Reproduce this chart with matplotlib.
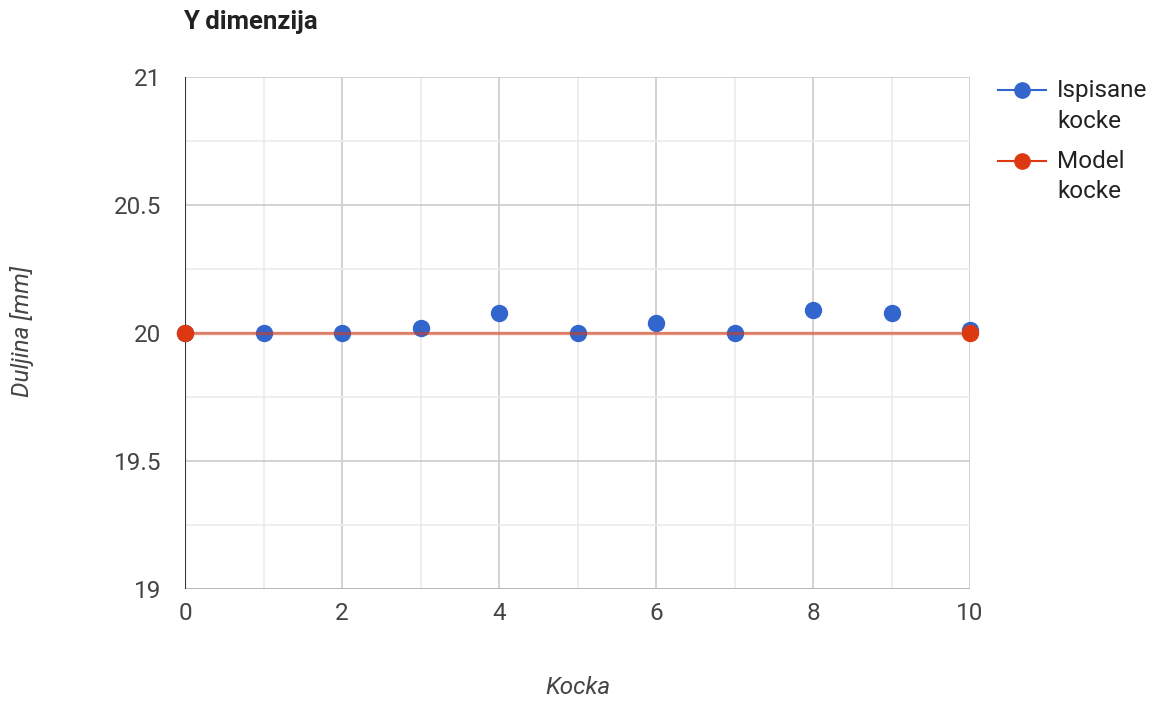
import matplotlib
matplotlib.use("Agg")
import matplotlib.pyplot as plt
from matplotlib.lines import Line2D

plt.rcParams['font.family'] = ['Roboto', 'DejaVu Sans']

kocke = [0, 1, 2, 3, 4, 5, 6, 7, 8, 9, 10]
ispisane = [20.00, 20.00, 20.00, 20.02, 20.08, 20.00, 20.04, 20.00, 20.09, 20.08, 20.01]
model_x = [0, 10]
model_y = [20, 20]
x_ticks = [0, 2, 4, 6, 8, 10]
y_ticks = [19, 19.5, 20, 20.5, 21]
y_labels = ['19', '19.5', '20', '20.5', '21']
legend_labels = [['Ispisane', 'kocke'], ['Model', 'kocke']]

blue = '#3366cc'
red = '#dc3912'
W, H = 1168, 706
FS = 17.5

fig = plt.figure(figsize=(W/100, H/100), dpi=100)
ax = fig.add_axes([185/W, 1-589/H, (970-185)/W, (589-77)/H])

ax.set_xlim(0, 10)
ax.set_ylim(19, 21)

# grid
for x in range(0, 11):
    ax.axvline(x, color='#cccccc' if x % 2 == 0 else '#ebebeb', lw=1.2, zorder=0)
for y in [19.25, 19.5, 19.75, 20, 20.25, 20.5, 20.75, 21]:
    ax.axhline(y, color='#cccccc' if (y * 2) % 1 == 0 else '#ebebeb', lw=1.2, zorder=0)
ax.axhline(19, color='#aaaaaa', lw=1.2, zorder=1)
ax.axvline(0, color='#333333', lw=1.5, zorder=1)

ax.plot(kocke, ispisane, 'o', color=blue, ms=11.5, mec=blue, zorder=3, clip_on=False)
ax.plot(model_x, model_y, '-', color=red, lw=2.4, alpha=0.55, zorder=4, clip_on=False)
ax.plot(model_x, model_y, 'o', color=red, ms=11.5, mec=red, zorder=5, clip_on=False)

for s in ax.spines.values():
    s.set_visible(False)
ax.set_xticks(x_ticks)
ax.set_xticklabels([str(v) for v in x_ticks])
ax.set_yticks(y_ticks)
ax.set_yticklabels(y_labels)
ax.tick_params(length=0, labelsize=FS, labelcolor='#444444')
ax.tick_params(axis='x', pad=9)
ax.tick_params(axis='y', pad=17)

fig.text(578/W, 1-688/H, 'Kocka', ha='center', va='center', fontsize=FS,
         style='italic', color='#444444')
fig.text(22/W, 1-331/H, 'Duljina [mm]', ha='center', va='center', fontsize=FS,
         style='italic', color='#444444', rotation=90)
fig.text(183/W, 1-22/H, 'Y dimenzija', ha='left', va='center', fontsize=18.5,
         weight='bold', color='#222222')

# legend (manual, to match the layout of the reference)
for color, lines, yc in zip([blue, red], legend_labels, [90, 161]):
    fig.add_artist(Line2D([998/W, 1046/W], [1-yc/H, 1-yc/H], color=color, lw=1.5,
                          transform=fig.transFigure))
    fig.add_artist(Line2D([1022/W], [1-yc/H], color=color, marker='o', ms=11,
                          transform=fig.transFigure))
    for i, line in enumerate(lines):
        fig.text(1057/W, 1-(yc + 31*i)/H, line, ha='left', va='center',
                 fontsize=FS, color='#222222')

fig.savefig('out.png', dpi=100)
